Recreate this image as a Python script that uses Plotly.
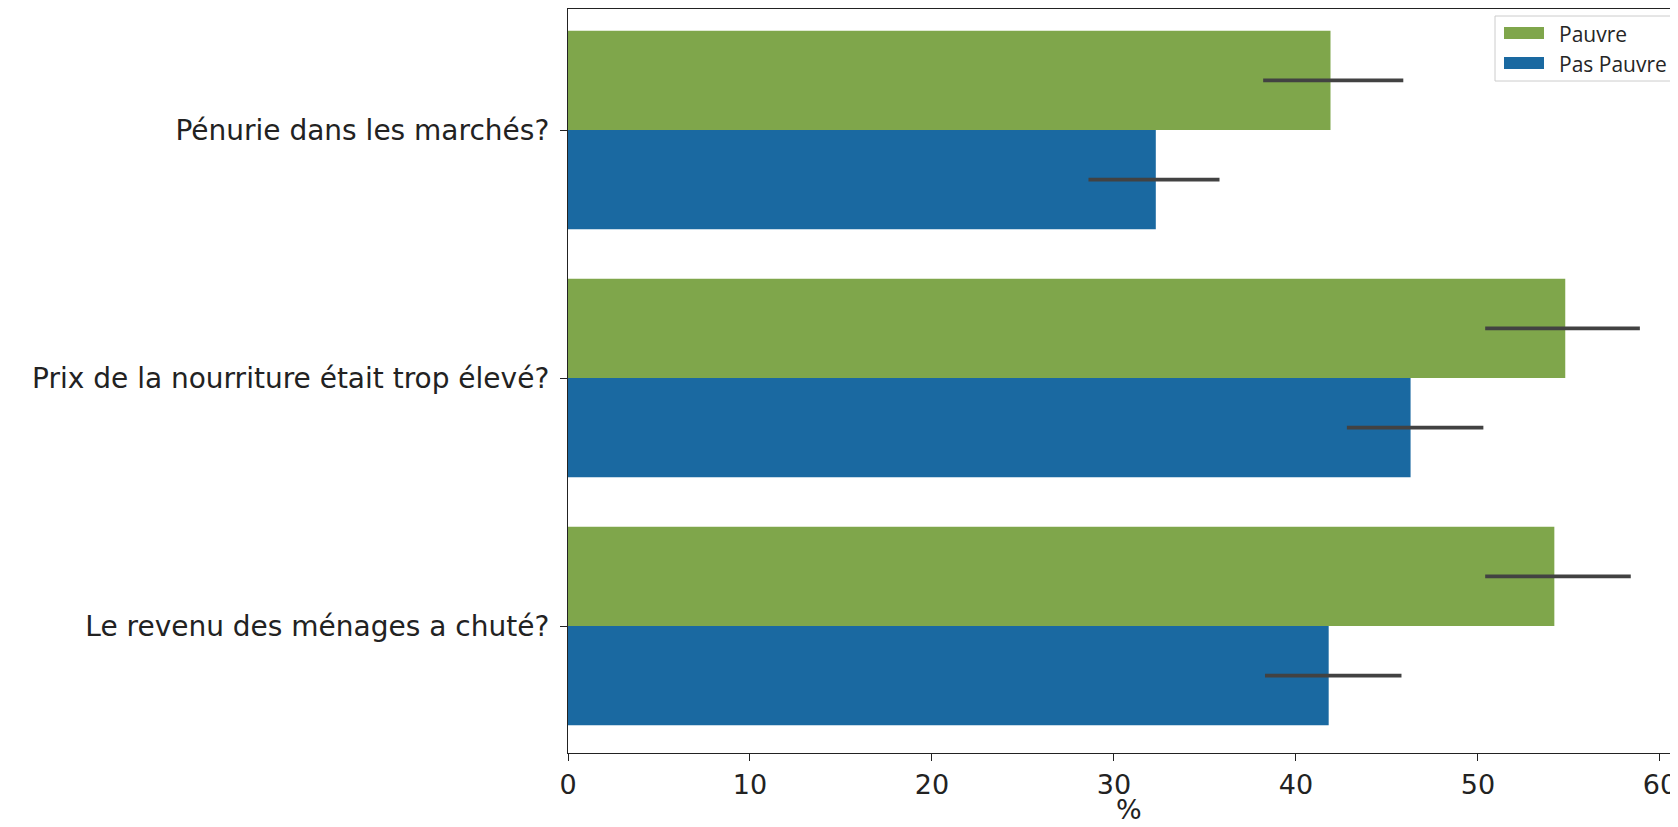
import plotly.graph_objects as go

categories = ["Pénurie dans les marchés?",
              "Prix de la nourriture était trop élevé?",
              "Le revenu des ménages a chuté?"]
series_names = ["Pauvre", "Pas Pauvre"]
pauvre = [41.9, 54.8, 54.2]
pauvre_lo = [38.2, 50.4, 50.4]
pauvre_hi = [45.9, 58.9, 58.4]
pas_pauvre = [32.3, 46.3, 41.8]
pas_pauvre_lo = [28.6, 42.8, 38.3]
pas_pauvre_hi = [35.8, 50.3, 45.8]
x_ticks = [0, 10, 20, 30, 40, 50, 60]
x_title = "%"

colors = ["#7fa64b", "#1a69a1"]
OFF = 8  # page body margin
W, H = 1678 - OFF, 827 - OFF
L, R, T = 568 - OFF, 0, 1
B = H - (753 - OFF)
PW, PH = W - L - R, H - T - B
X_MAX = (1678 - 568.5) / 18.19


def px(x):
    return (x - OFF - L) / PW


def py(y):
    return (H - B - (y - OFF)) / PH


fig = go.Figure()
for name, vals, lo, hi, col, off in [
    (series_names[0], pauvre, pauvre_lo, pauvre_hi, colors[0], -0.4),
    (series_names[1], pas_pauvre, pas_pauvre_lo, pas_pauvre_hi, colors[1], 0.0),
]:
    fig.add_trace(go.Bar(
        name=name, y=categories, x=vals, orientation="h",
        offset=off, width=0.4, marker=dict(color=col, line=dict(width=0)),
        showlegend=False,
        error_x=dict(type="data", symmetric=False,
                     array=[h - v for h, v in zip(hi, vals)],
                     arrayminus=[v - l for v, l in zip(vals, lo)],
                     color="#424242", thickness=3.6, width=0),
    ))

xfont = dict(family="DejaVu Sans", size=27, color="#222222")
yfont = dict(family="DejaVu Sans", size=28, color="#222222")
fig.update_layout(
    width=W, height=H, margin=dict(l=L, r=R, t=T, b=B, autoexpand=False),
    plot_bgcolor="white", paper_bgcolor="white", barmode="overlay",
    showlegend=False,
    xaxis=dict(range=[0, X_MAX], tickvals=x_ticks,
               ticks="outside", ticklen=7, tickwidth=1.3, tickcolor="#222",
               showline=True, linecolor="#222", linewidth=1.3, mirror=True,
               showgrid=False, zeroline=False, tickfont=xfont),
    yaxis=dict(type="category", categoryarray=categories,
               range=[2.512, -0.488], ticks="outside", ticklen=7, tickwidth=1.3,
               tickcolor="#222", showline=True, linecolor="#222", linewidth=1.3,
               showgrid=False, zeroline=False, tickfont=yfont,
               ticklabelstandoff=5),
)

# x-axis title as annotation (centred on the full, cropped axes), legend drawn manually
ann = [dict(xref="paper", yref="paper", x=px(1129), y=py(826), text=x_title,
            showarrow=False, xanchor="center", yanchor="bottom", borderpad=0,
            font=dict(family="DejaVu Sans", size=27, color="#222222"))]
shapes = [dict(type="rect", xref="paper", yref="paper",
               x0=px(1495), x1=px(1720), y0=py(81), y1=py(16),
               line=dict(color="#cccccc", width=1), fillcolor="rgba(255,255,255,0.85)",
               layer="above")]
for i, (name, col) in enumerate(zip(series_names, colors)):
    yc = 33 + i * 30
    shapes.append(dict(type="rect", xref="paper", yref="paper",
                       x0=px(1504), x1=px(1544), y0=py(yc + 6), y1=py(yc - 6),
                       line=dict(width=0), fillcolor=col, layer="above"))
    ann.append(dict(xref="paper", yref="paper", x=px(1557), y=py(yc + 1),
                    text=name, showarrow=False, xanchor="left", yanchor="middle",
                    font=dict(family="Open Sans", size=21, color="#262626")))
fig.update_layout(shapes=shapes, annotations=ann)

fig.write_html("out.html")
